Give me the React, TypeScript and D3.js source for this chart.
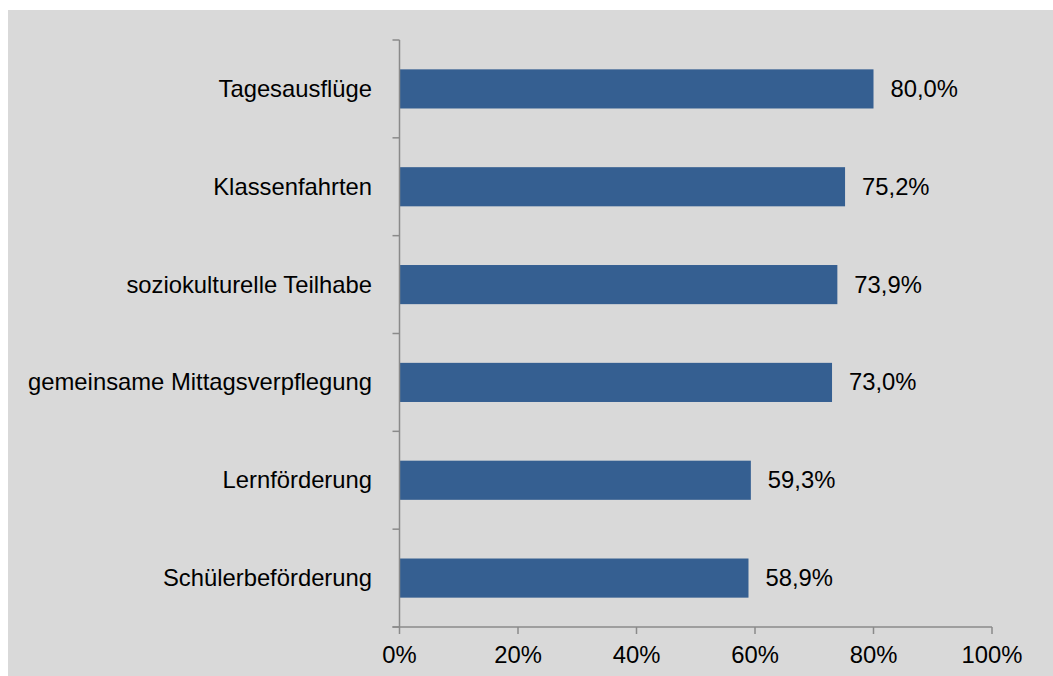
import React from "react";
import * as d3 from "d3";

const categories = [
  "Tagesausflüge",
  "Klassenfahrten",
  "soziokulturelle Teilhabe",
  "gemeinsame Mittagsverpflegung",
  "Lernförderung",
  "Schülerbeförderung",
];
const values = [80.0, 75.2, 73.9, 73.0, 59.3, 58.9];
const xTicks = [0, 20, 40, 60, 80, 100];

const W = 1053;
const H = 676;
const FONT = "'Liberation Sans', Arial, sans-serif";
const FS = 23.8;

export default function App() {
  const x = d3.scaleLinear().domain([0, 100]).range([399.5, 992]);
  const y = d3
    .scaleBand<string>()
    .domain(categories)
    .range([40, 627])
    .paddingInner(0.6)
    .paddingOuter(0.3);
  const step = y.step();
  const axisColor = "#8a8a8a";
  const fmt = (v: number) => v.toFixed(1).replace(".", ",") + "%";
  const boundaries = d3.range(categories.length + 1).map((i) => 40 + i * step);

  return (
    <svg
      width={W}
      height={H}
      style={{ position: "absolute", left: 0, top: 0 }}
      fontFamily={FONT}
    >
      <rect x={0} y={0} width={W} height={H} fill="#ffffff" />
      <rect x={8} y={10} width={W - 8} height={H - 10} fill="#d9d9d9" />
      {categories.map((c, i) => (
        <rect
          key={c}
          x={x(0)}
          y={y(c)!}
          width={x(values[i]) - x(0)}
          height={y.bandwidth()}
          fill="#355f91"
        />
      ))}
      {/* y axis */}
      <line x1={x(0)} x2={x(0)} y1={40} y2={627} stroke={axisColor} strokeWidth={1.5} />
      {boundaries.map((b, i) => (
        <line key={i} x1={x(0) - 7} x2={x(0)} y1={b} y2={b} stroke={axisColor} strokeWidth={1.5} />
      ))}
      {/* x axis */}
      <line x1={x(0) - 7} x2={x(100)} y1={627} y2={627} stroke={axisColor} strokeWidth={1.5} />
      {xTicks.map((t) => (
        <g key={t}>
          <line x1={x(t)} x2={x(t)} y1={627} y2={634} stroke={axisColor} strokeWidth={1.5} />
          <text x={x(t)} y={663} textAnchor="middle" fontSize={FS} fill="#000">
            {t + "%"}
          </text>
        </g>
      ))}
      {categories.map((c, i) => {
        const cy = y(c)! + y.bandwidth() / 2;
        return (
          <g key={c}>
            <text x={372} y={cy + 8} textAnchor="end" fontSize={FS} fill="#000">
              {c}
            </text>
            <text x={x(values[i]) + 17} y={cy + 8} fontSize={FS} fill="#000">
              {fmt(values[i])}
            </text>
          </g>
        );
      })}
    </svg>
  );
}
